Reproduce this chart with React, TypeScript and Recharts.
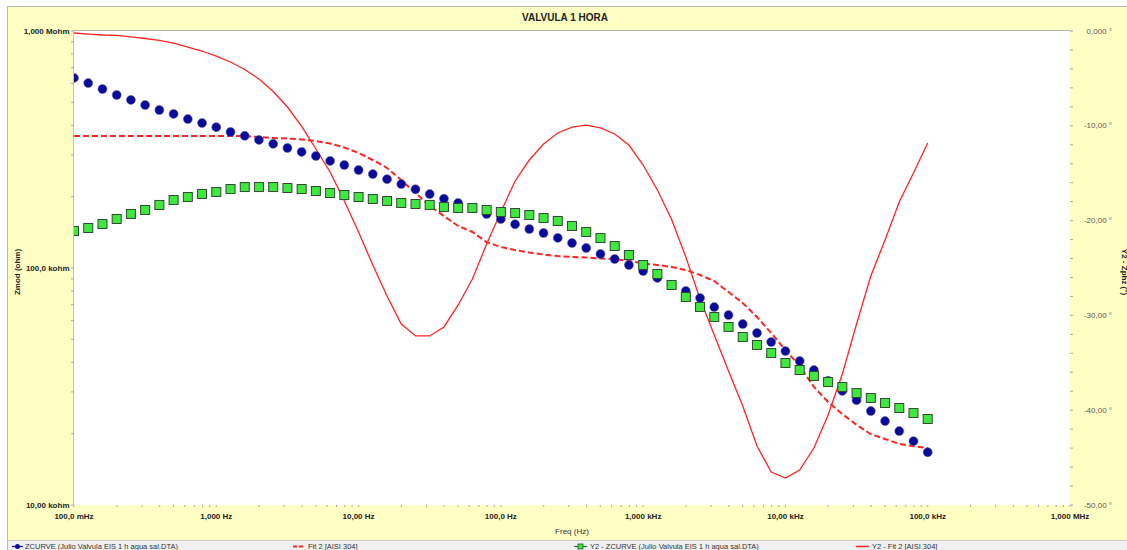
import { ComposedChart, Line, XAxis, YAxis } from "recharts";

// frequencies of the sweep (Hz), 10 points per decade
const FREQ_HZ = [
  0.1, 0.1259, 0.1585, 0.1995, 0.2512, 0.3162, 0.3981, 0.5012, 0.631, 0.7943,
  1, 1.259, 1.585, 1.995, 2.512, 3.162, 3.981, 5.012, 6.31, 7.943,
  10, 12.59, 15.85, 19.95, 25.12, 31.62, 39.81, 50.12, 63.1, 79.43,
  100, 125.9, 158.5, 199.5, 251.2, 316.2, 398.1, 501.2, 631, 794.3,
  1000, 1259, 1585, 1995, 2512, 3162, 3981, 5012, 6310, 7943,
  10000, 12590, 15850, 19950, 25120, 31620, 39810, 50120, 63100, 79430, 100000,
];

// ZCURVE - Zmod (ohm)
const ZMOD_OHM = [
  634000, 603000, 569000, 537000, 512000, 487000, 464000, 447000, 425000, 409000,
  393000, 375000, 361000, 347000, 334000, 321000, 309000, 297000, 283000, 272000,
  259000, 249000, 237000, 226000, 215000, 205000, 196000, 188000, 179000, 169000,
  161000, 153000, 146000, 140500, 134000, 127500, 121500, 114600, 109100, 103000,
  97100, 90800, 84800, 80000, 74700, 68400, 63300, 58000, 53200, 48700,
  44600, 40500, 37100, 33400, 30300, 27700, 24900, 22600, 20500, 18600, 16700,
];

// Y2 - ZCURVE - Zphz (deg)
const ZPHZ_DEG = [
  -21.1, -20.78, -20.36, -19.83, -19.3, -18.88, -18.35, -17.83, -17.51, -17.19,
  -16.98, -16.67, -16.46, -16.46, -16.46, -16.56, -16.67, -16.88, -17.09, -17.3,
  -17.51, -17.72, -17.93, -18.14, -18.25, -18.35, -18.57, -18.67, -18.67, -18.88,
  -19.09, -19.2, -19.41, -19.73, -20.04, -20.57, -21.2, -21.84, -22.68, -23.63,
  -24.68, -25.63, -26.79, -28.06, -29.11, -30.17, -31.22, -32.28, -33.12, -33.97,
  -35.02, -35.76, -36.39, -37.03, -37.55, -38.19, -38.71, -39.24, -39.77, -40.3, -40.93,
];

// Fit 2 [AISI 304] - Zmod (ohm)
const FIT_ZMOD_OHM = [
  360600, 360600, 360600, 360600, 360600, 360600, 360600, 360600, 360600, 360600,
  360600, 360600, 360600, 357000, 353600, 352000, 348500, 343500, 335000, 322500,
  305700, 285600, 264200, 235100, 207200, 182600, 165700, 150400, 141900, 128700,
  122600, 119100, 116300, 114000, 112300, 111300, 110700, 109700, 109100, 107000,
  104500, 103000, 101000, 98100, 93400, 88100, 79200, 71200, 62100, 53200,
  45100, 38600, 31500, 27200, 24200, 21800, 19900, 19000, 18100, 17700, 17400,
];

// Y2 - Fit 2 [AISI 304] - Zphz (deg)
const FIT_ZPHZ_DEG = [
  -0.21, -0.32, -0.42, -0.47, -0.63, -0.79, -1.0, -1.27, -1.69, -2.11,
  -2.64, -3.27, -4.06, -5.06, -6.38, -8.02, -10.07, -12.45, -14.87, -17.93,
  -21.2, -24.68, -27.95, -30.91, -32.17, -32.17, -31.22, -28.9, -26.16, -22.47,
  -19.09, -15.82, -13.61, -11.92, -10.76, -10.13, -9.92, -10.23, -10.86, -12.03,
  -14.14, -16.77, -19.88, -23.84, -28.27, -32.07, -35.86, -39.56, -43.78, -46.52,
  -47.15, -46.31, -43.99, -40.51, -36.18, -30.91, -25.84, -22.05, -18.04, -14.98, -11.81,
];

const FREQ_MAJOR = [0.1, 1, 10, 100, 1000, 10000, 100000, 1000000];
const FREQ_LABELS = [
  "100,0 mHz", "1,000 Hz", "10,00 Hz", "100,0 Hz",
  "1,000 kHz", "10,00 kHz", "100,0 kHz", "1,000 MHz",
];
const ZMOD_MAJOR = [10000, 100000, 1000000];
const ZMOD_LABELS = ["10,00 kohm", "100,0 kohm", "1,000 Mohm"];
const PHZ_MAJOR = [0, -10, -20, -30, -40, -50];
const PHZ_LABELS = ["0,000 °", "-10,00 °", "-20,00 °", "-30,00 °", "-40,00 °", "-50,00 °"];

const LEGEND = [
  "ZCURVE (Julio Valvula EIS 1 h agua sal.DTA)",
  "Fit 2 [AISI 304]",
  "Y2 - ZCURVE (Julio Valvula EIS 1 h agua sal.DTA)",
  "Y2 - Fit 2 [AISI 304]",
];

const FONT = "'Liberation Sans', Arial, sans-serif";
const YELLOW = "#ffffc4";
const BLUE = "#0a0a9c";
const GREEN = "#3ee83e";
const RED = "#ff2424";

// log ticks with minor marks between decades
const logTicks = (majors: number[]) => {
  const out: number[] = [];
  majors.forEach((m, i) => {
    out.push(m);
    if (i < majors.length - 1) for (let k = 2; k <= 9; k++) out.push(m * k);
  });
  return out;
};
const FREQ_TICKS = logTicks(FREQ_MAJOR);
const ZMOD_TICKS = logTicks(ZMOD_MAJOR);
const PHZ_TICKS = [0, -2, -4, -6, -8, -10, -12, -14, -16, -18, -20, -22, -24, -26, -28, -30,
  -32, -34, -36, -38, -40, -42, -44, -46, -48, -50];

const logIndex = (arr: number[], v: number) =>
  arr.findIndex((m) => Math.abs(Math.log10(m) - Math.log10(v)) < 1e-6);

const FreqTick = (props: any) => {
  const { x, y, payload } = props;
  const idx = logIndex(FREQ_MAJOR, payload.value);
  return (
    <g>
      <line x1={x} x2={x} y1={y} y2={y + 2} stroke="#a8a8a8" />
      {idx >= 0 && (
        <text x={x} y={y + 11} textAnchor="middle" dominantBaseline="central"
          fontSize={8} fontWeight="bold" fill="#222" fontFamily={FONT}>
          {FREQ_LABELS[idx]}
        </text>
      )}
    </g>
  );
};

const ModTick = (props: any) => {
  const { x, y, payload } = props;
  const idx = logIndex(ZMOD_MAJOR, payload.value);
  return (
    <g>
      <line x1={x - 3} x2={x} y1={y} y2={y} stroke="#a8a8a8" />
      {idx >= 0 && (
        <text x={x - 4.5} y={y} textAnchor="end" dominantBaseline="central"
          fontSize={8} fontWeight="bold" fill="#222" fontFamily={FONT}>
          {ZMOD_LABELS[idx]}
        </text>
      )}
    </g>
  );
};

const PhzTick = (props: any) => {
  const { x, y, payload } = props;
  const idx = PHZ_MAJOR.indexOf(payload.value);
  return (
    <g>
      <line x1={x} x2={x + 3} y1={y} y2={y} stroke="#a8a8a8" />
      {idx >= 0 && (
        <text x={1112} y={y} textAnchor="end" dominantBaseline="central"
          fontSize={8} fill="#5a5a5a" fontFamily={FONT}>
          {PHZ_LABELS[idx]}
        </text>
      )}
    </g>
  );
};

const circleDot = (p: any) =>
  p.cx == null ? <g key={p.index} /> : (
    <circle key={p.index} cx={p.cx} cy={p.cy} r={4.5} fill={BLUE} stroke="#5a5a9a" strokeWidth={0.5} />
  );

const squareDot = (p: any) =>
  p.cx == null ? <g key={p.index} /> : (
    <rect key={p.index} x={p.cx - 4.5} y={p.cy - 4.5} width={9} height={9}
      fill={GREEN} stroke="#2f4a2f" strokeWidth={1} />
  );

export default function App() {
  const rows = FREQ_HZ.map((f, i) => ({
    f,
    zmod: ZMOD_OHM[i],
    fitMod: FIT_ZMOD_OHM[i],
    zphz: ZPHZ_DEG[i],
    fitPhz: FIT_ZPHZ_DEG[i],
  }));

  return (
    <div style={{ position: "absolute", left: 0, top: 0, width: 1127, height: 550, background: "#fff", overflow: "hidden", fontFamily: FONT }}>
      {/* frame */}
      <div style={{ position: "absolute", left: 7, top: 6, width: 1120, height: 535, background: YELLOW,
        borderTop: "1px solid #b9b9b9", borderLeft: "1px solid #b9b9b9", boxSizing: "border-box" }} />
      <div style={{ position: "absolute", left: 7, top: 540, width: 1120, height: 10, background: "#f0f0f0",
        borderTop: "1px solid #cdcdcd", borderLeft: "1px solid #b9b9b9", boxSizing: "border-box" }} />
      {/* plot area */}
      <div style={{ position: "absolute", left: 73, top: 30, width: 997, height: 475, background: "#fff",
        borderTop: "1px solid #b4b4b4", borderLeft: "1px solid #c4c4c4", boxSizing: "border-box" }} />

      <div style={{ position: "absolute", left: 0, top: 0 }}>
        <ComposedChart width={1127} height={537} data={rows} margin={{ top: 31, right: 0, bottom: 0, left: 0 }}>
          <XAxis dataKey="f" type="number" scale="log" domain={[0.1, 1000000]} allowDataOverflow
            ticks={FREQ_TICKS} interval={0} height={32} tickSize={0} tickMargin={0}
            axisLine={false} tickLine={false} tick={FreqTick} />
          <YAxis yAxisId="mod" orientation="left" type="number" scale="log" domain={[10000, 1000000]}
            allowDataOverflow ticks={ZMOD_TICKS} interval={0} width={74} tickSize={0} tickMargin={0}
            axisLine={false} tickLine={false} tick={ModTick} />
          <YAxis yAxisId="phz" orientation="right" type="number" domain={[-50, 0]} allowDataOverflow
            ticks={PHZ_TICKS} interval={0} width={57} tickSize={0} tickMargin={0}
            axisLine={false} tickLine={false} tick={PhzTick} />

          <Line yAxisId="mod" dataKey="zmod" type="linear" stroke="none" dot={circleDot}
            activeDot={false} isAnimationActive={false} />
          <Line yAxisId="mod" dataKey="fitMod" type="linear" stroke={RED} strokeWidth={2}
            strokeDasharray="6 3" dot={false} activeDot={false} isAnimationActive={false} />
          <Line yAxisId="phz" dataKey="zphz" type="linear" stroke="none" dot={squareDot}
            activeDot={false} isAnimationActive={false} />
          <Line yAxisId="phz" dataKey="fitPhz" type="linear" stroke={RED} strokeWidth={1.3}
            dot={false} activeDot={false} isAnimationActive={false} />
        </ComposedChart>
      </div>

      {/* titles and legend */}
      <svg width={1127} height={550} style={{ position: "absolute", left: 0, top: 0, pointerEvents: "none" }} fontFamily={FONT}>
        <text x={565} y={17} textAnchor="middle" dominantBaseline="central" fontSize={10} fontWeight="bold" fill="#222">
          VALVULA 1 HORA
        </text>
        <text transform="translate(17.5,272) rotate(-90)" textAnchor="middle" dominantBaseline="central"
          fontSize={8} fontWeight="bold" fill="#222">Zmod (ohm)</text>
        <text transform="translate(1124,272) rotate(90)" textAnchor="middle" dominantBaseline="central"
          fontSize={8} fontWeight="bold" fill="#222">Y2 - Zphz (°)</text>
        <text x={572} y={531} textAnchor="middle" dominantBaseline="central" fontSize={8} fill="#333">Freq (Hz)</text>

        {/* legend */}
        <line x1={12} x2={23} y1={546.5} y2={546.5} stroke={BLUE} strokeWidth={1.2} />
        <circle cx={17.5} cy={546.5} r={2.5} fill={BLUE} />
        <text x={25} y={546.5} dominantBaseline="central" fontSize={7.5} fill="#333">{LEGEND[0]}</text>

        <line x1={293} x2={305} y1={546.5} y2={546.5} stroke={RED} strokeWidth={2} strokeDasharray="4 2" />
        <text x={308} y={546.5} dominantBaseline="central" fontSize={7.5} fill="#333">{LEGEND[1]}</text>

        <line x1={574} x2={587} y1={546.5} y2={546.5} stroke="#2f6a2f" strokeWidth={1.2} />
        <rect x={578} y={544} width={5} height={5} fill={GREEN} stroke="#2f4a2f" strokeWidth={0.8} />
        <text x={590} y={546.5} dominantBaseline="central" fontSize={7.5} fill="#333">{LEGEND[2]}</text>

        <line x1={856} x2={869} y1={546.5} y2={546.5} stroke={RED} strokeWidth={1.5} />
        <text x={872} y={546.5} dominantBaseline="central" fontSize={7.5} fill="#333">{LEGEND[3]}</text>
      </svg>
    </div>
  );
}
